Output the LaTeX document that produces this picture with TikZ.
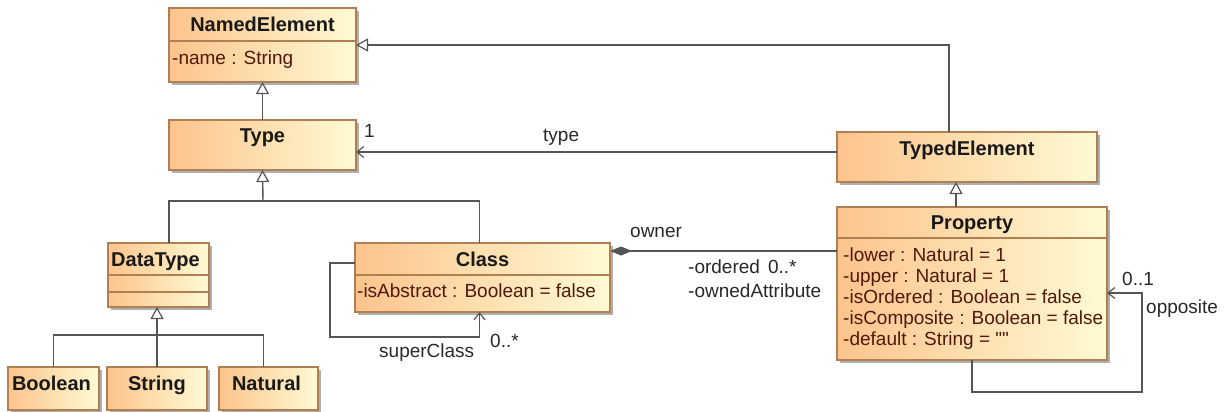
\documentclass[tikz,border=0pt]{standalone}
\usepackage{fontspec}
\setmainfont{Liberation Sans}
\newfontfamily\plainsans{Liberation Sans}[Ligatures=TeXOff]
\usetikzlibrary{arrows.meta,shadows,calc}
\definecolor{boxl}{RGB}{252,196,140}
\definecolor{boxr}{RGB}{255,250,212}
\definecolor{boxborder}{RGB}{176,128,84}
\definecolor{shadowc}{RGB}{175,175,175}
\definecolor{linec}{RGB}{85,85,85}
\definecolor{attrc}{RGB}{80,24,12}
\definecolor{labc}{RGB}{40,40,40}
\begin{document}
\begin{tikzpicture}[x=1pt,y=-1pt,
  umlbox/.style={rectangle, draw=boxborder, line width=1.2pt, left color=boxl, right color=boxr,
    drop shadow={shadow xshift=3pt, shadow yshift=-3pt, fill=shadowc, opacity=1},
    inner sep=0pt, outer sep=0pt},
  umltitle/.style={font=\fontsize{20}{24}\selectfont\bfseries, text=black!90, anchor=base, inner sep=0pt},
  umlattr/.style={font=\fontsize{19}{21}\selectfont, text=attrc, anchor=base west, inner sep=0pt},
  umllab/.style={font=\fontsize{19}{21}\selectfont, text=labc, anchor=base west, inner sep=0pt},
  umlsep/.style={draw=boxborder, line width=1.2pt},
  conn/.style={draw=linec, line width=1.4pt},
  gen/.style={conn, -{Triangle[length=12pt,width=13pt,fill=white,line width=1.2pt]}},
  nav/.style={conn, -{Straight Barb[length=7pt,width=11pt,line width=1.2pt]}},
  comp/.style={conn, {Diamond[length=22pt,width=9pt]}-}
]
\useasboundingbox (0,0) rectangle (1226,412);

% boxes
\node[umlbox, minimum width=187pt, minimum height=74pt] (ne) at (262.5,45) {};
\node[umlbox, minimum width=187pt, minimum height=50pt] (type) at (262.5,145) {};
\node[umlbox, minimum width=260pt, minimum height=50pt] (te) at (967,157) {};
\node[umlbox, minimum width=270pt, minimum height=153pt] (prop) at (972,283.5) {};
\node[umlbox, minimum width=101pt, minimum height=64pt] (dt) at (158.5,275) {};
\node[umlbox, minimum width=255pt, minimum height=69pt] (cls) at (482.5,277.5) {};
\node[umlbox, minimum width=91pt, minimum height=43pt] (bool) at (53.5,388.5) {};
\node[umlbox, minimum width=100pt, minimum height=43pt] (str) at (157,388.5) {};
\node[umlbox, minimum width=99pt, minimum height=43pt] (nat) at (268.5,388.5) {};

% separators
\draw[umlsep] ($(ne.north west)+(0,33)$) -- ($(ne.north east)+(0,33)$);
\draw[umlsep] ($(dt.north west)+(0,32)$) -- ($(dt.north east)+(0,32)$);
\draw[umlsep] ($(dt.north west)+(0,49)$) -- ($(dt.north east)+(0,49)$);
\draw[umlsep] ($(cls.north west)+(0,32)$) -- ($(cls.north east)+(0,32)$);
\draw[umlsep] ($(prop.north west)+(0,31)$) -- ($(prop.north east)+(0,31)$);

% titles
\node[umltitle] (neT) at ($(ne.north)+(0,23.5)$) {NamedElement};
\node[umltitle] (typeT) at ($(type.north)+(0,22)$) {Type};
\node[umltitle] (teT) at ($(te.north)+(0,23)$) {TypedElement};
\node[umltitle] (propT) at ($(prop.north)+(0,22)$) {Property};
\node[umltitle] (dtT) at ($(dt.north)+(-3,23)$) {DataType};
\node[umltitle] (clsT) at ($(cls.north)+(0,23)$) {Class};
\node[umltitle] (boolT) at ($(bool.north)+(-2,23)$) {Boolean};
\node[umltitle] (strT) at ($(str.north)+(0,23)$) {String};
\node[umltitle] (natT) at ($(nat.north)+(-2,23)$) {Natural};

% attributes
\node[umlattr] (neA) at (172,64) {-name : String};
\node[umlattr] (clsA) at (357,297) {-isAbstract : Boolean = false};
\node[umlattr] (pA1) at (843,261) {-lower : Natural = 1};
\node[umlattr] (pA2) at (843,282) {-upper : Natural = 1};
\node[umlattr] (pA3) at (843,303) {-isOrdered : Boolean = false};
\node[umlattr] (pA4) at (843,324) {-isComposite : Boolean = false};
\node[umlattr] (pA5) at (843,345) {-default : String = {\plainsans ""}};

% helper coordinates
\coordinate (ty) at (0,152);
\coordinate (pg) at (956,0);
\coordinate (tj) at (263,201);
\coordinate (dtx) at (169,0);
\coordinate (dj) at (157,335);
\coordinate (cy) at (0,251);
\coordinate (ca) at (0,263);
\coordinate (oq) at (0,293);

% generalizations
\draw[gen] (type.north) -- (ne.south);
\draw[gen] ($(te.north)+(-18,0)$) |- (ne.east);
\draw[gen] (prop.north -| pg) -- (te.south -| pg);
\draw[conn] (dt.north -| dtx) |- (tj) -| ($(cls.north)+(-3,0)$);
\draw[gen] (tj) -- (type.south);
\draw[conn] (bool.north) |- (dj) -| ($(nat.north)+(-5,0)$);
\draw[gen] (str.north) -- (str.north |- dt.south);

% associations
\draw[nav] (te.west |- ty) -- (type.east |- ty);
\draw[comp] (cls.east |- cy) -- (prop.west |- cy);
\draw[nav] (cls.west |- ca) -- ++(-25,0) |- ($(cls.south)+(-3,25)$) -- ($(cls.south)+(-3,0)$);
\draw[nav] (prop.south) -- ++(0,32) -- ++(170,0) |- (prop.east |- oq);

% labels
\node[umllab] (l1) at (364,137) {1};
\node[umllab] (ltype) at (543,141) {type};
\node[umllab] (lowner) at (630,237) {owner};
\node[umllab] (lord) at (688,273) {-ordered\hspace{8pt}0..*};
\node[umllab] (lown) at (688,297) {-ownedAttribute};
\node[umllab] (lsm) at (490,347) {0..*};
\node[umllab] (lsc) at (379,357) {superClass};
\node[umllab] (lom) at (1122,285) {0..1};
\node[umllab] (lop) at (1146,313) {opposite};
\end{tikzpicture}
\end{document}
